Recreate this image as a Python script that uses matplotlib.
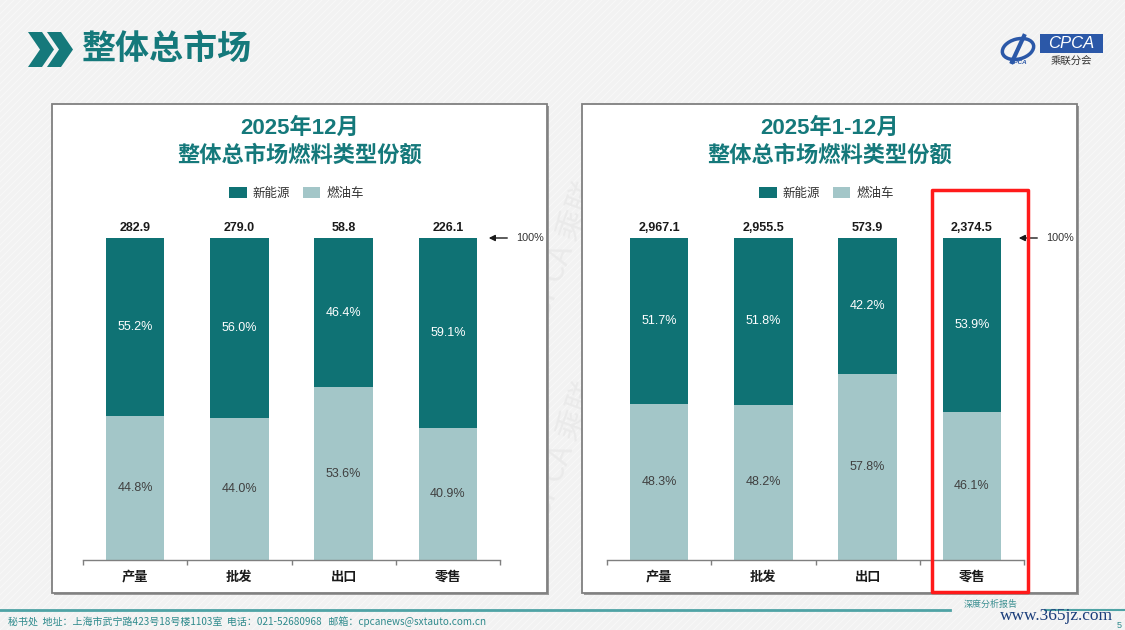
import matplotlib
matplotlib.use("Agg")
import matplotlib.pyplot as plt
from matplotlib.patches import Rectangle, Polygon, Ellipse, Patch

plt.rcParams['font.family'] = ['Liberation Sans', 'Noto Sans CJK SC', 'DejaVu Sans']

# ---------------- data ----------------
categories = ['产量', '批发', '出口', '零售']
left_title = ['2025年12月', '整体总市场燃料类型份额']
left_totals = ['282.9', '279.0', '58.8', '226.1']
left_nev = [55.2, 56.0, 46.4, 59.1]
left_ice = [44.8, 44.0, 53.6, 40.9]

right_title = ['2025年1-12月', '整体总市场燃料类型份额']
right_totals = ['2,967.1', '2,955.5', '573.9', '2,374.5']
right_nev = [51.7, 51.8, 42.2, 53.9]
right_ice = [48.3, 48.2, 57.8, 46.1]

series_names = ['新能源', '燃油车']
page_title = '整体总市场'
footer_text = '秘书处  地址：上海市武宁路423号18号楼1103室  电话：021-52680968   邮箱：cpcanews@sxtauto.com.cn'

DARK = '#0F7274'
LIGHT = '#A3C6C8'
TEAL = '#15797B'

W, H = 1125, 630
fig = plt.figure(figsize=(W / 100, H / 100), dpi=100)
fig.patch.set_facecolor('#F2F2F2')

bg = fig.add_axes([0, 0, 1, 1], zorder=0)
bg.set_xlim(0, W)
bg.set_ylim(H, 0)
bg.axis('off')
bg.set_facecolor('none')

# faint diagonal stripes background
for k in range(-700, 1200, 7):
    bg.plot([k, k + 630], [630, 0], color='white', lw=0.6, alpha=0.55, zorder=0)

# header chevrons
for dx in (0, 19):
    bg.add_patch(Polygon([(28 + dx, 32), (42 + dx, 32), (54 + dx, 49.5), (42 + dx, 67),
                          (28 + dx, 67), (40 + dx, 49.5)], closed=True,
                         facecolor=TEAL, edgecolor='none', zorder=2))
bg.text(82, 49, page_title, fontsize=24.5, fontweight='bold', color=TEAL,
        family=['Noto Sans CJK SC'], va='center', ha='left', zorder=3)

# logo
bg.add_patch(Rectangle((1040, 34), 63, 19, facecolor='#2B58A8', edgecolor='none', zorder=2))
bg.text(1071.5, 43.5, 'CPCA', fontsize=12, color='white', style='italic',
        ha='center', va='center', zorder=3)
bg.text(1071, 61, '乘联分会', fontsize=7.5, color='#333333', family=['Noto Sans CJK SC'],
        ha='center', va='center', zorder=3)
bg.add_patch(Ellipse((1018, 49), 32, 20, angle=-15, facecolor='none', edgecolor='#2B58A8',
                     lw=2.5, zorder=2))
bg.plot([1024, 1012], [36, 62], color='#2B58A8', lw=3, zorder=2)
bg.text(1018, 63, 'CPCA', fontsize=4.5, color='#2B58A8', style='italic', fontweight='bold',
        ha='center', va='center', zorder=3)

# footer
bg.plot([0, 950], [610, 610], color='#4FA3A5', lw=2, zorder=2)
bg.plot([1045, 1125], [610, 610], color='#4FA3A5', lw=1.5, zorder=2)
bg.text(8, 622, footer_text, fontsize=7.2, color='#2E8A8C', family=['Noto Sans CJK SC'],
        va='center', ha='left', zorder=3)
bg.text(964, 604, '深度分析报告', fontsize=6.5, color='#3B8F91', family=['Noto Sans CJK SC'],
        va='center', ha='left', zorder=3)
bg.text(1000, 616, 'www.365jz.com', fontsize=12.5, color='#1A3D7A', family=['Liberation Serif'],
        va='center', ha='left', zorder=4)
bg.text(1119, 626, '5', fontsize=6.5, color='#2E8A8C', va='center', ha='center', zorder=3)

# faint watermark between panels
bg.text(565, 250, 'CPCA 乘联', fontsize=22, color='#EAEAEA', rotation=70,
        family=['Noto Sans CJK SC'], ha='center', va='center', zorder=1)
bg.text(565, 450, 'CPCA 乘联', fontsize=22, color='#EAEAEA', rotation=70,
        family=['Noto Sans CJK SC'], ha='center', va='center', zorder=1)


def panel(x0, axis_off, title, totals, nev, ice):
    pw, ph, y0 = 495, 489, 104
    # shadow + box
    bg.add_patch(Rectangle((x0 + 2, y0 + 2), pw, ph, facecolor='#9A9A9A', edgecolor='none', zorder=2))
    bg.add_patch(Rectangle((x0, y0), pw, ph, facecolor='white', edgecolor='#7F7F7F', lw=1.3, zorder=3))
    cx = x0 + pw / 2
    bg.text(cx, 128, title[0], fontsize=16, fontweight='bold', color=TEAL,
            ha='center', va='center', zorder=4)
    bg.text(cx, 155, title[1], fontsize=16, fontweight='bold', color=TEAL,
            family=['Noto Sans CJK SC'], ha='center', va='center', zorder=4)

    ax_left = x0 + axis_off
    ax = fig.add_axes([ax_left / W, (H - 560) / H, 417 / W, 322 / H], zorder=5)
    ax.set_facecolor('none')
    xs = list(range(len(categories)))
    ice_f = [v / 100 for v in ice]
    nev_f = [v / 100 for v in nev]
    ax.bar(xs, ice_f, width=0.56, color=LIGHT, label=series_names[1])
    ax.bar(xs, nev_f, width=0.56, bottom=ice_f, color=DARK, label=series_names[0])
    for i in xs:
        ax.text(i, ice_f[i] + nev_f[i] / 2, f'{nev[i]:.1f}%', ha='center', va='center',
                fontsize=9, color='white')
        ax.text(i, ice_f[i] / 2, f'{ice[i]:.1f}%', ha='center', va='center',
                fontsize=9, color='#404040')
        ax.annotate(totals[i], (i, ice_f[i] + nev_f[i]), xytext=(0, 3),
                    textcoords='offset points', ha='center', va='bottom',
                    fontsize=9, fontweight='bold', color='#1A1A1A', annotation_clip=False)
    ax.set_xlim(-0.5, len(categories) - 0.5)
    ax.set_ylim(0, 1)
    ax.set_xticks(xs)
    ax.set_xticklabels(categories, fontsize=9.5, fontweight='bold',
                       family=['Noto Sans CJK SC'], color='#1A1A1A')
    ax.set_xticks([i - 0.5 for i in range(len(categories) + 1)], minor=True)
    ax.tick_params(axis='x', which='major', length=0, pad=7)
    ax.tick_params(axis='x', which='minor', length=3.5, direction='out', color='#7F7F7F', width=1)
    ax.set_yticks([])
    for s in ('top', 'right', 'left'):
        ax.spines[s].set_visible(False)
    ax.spines['bottom'].set_color('#7F7F7F')
    ax.spines['bottom'].set_linewidth(1)

    # 100% arrow (placed in pixels relative to panel's right side)
    arrow_tip = (x0 + 433 - ax_left) / 104 - 0.5
    arrow_tail = (x0 + 457 - ax_left) / 104 - 0.5
    txt_x = (x0 + 463 - ax_left) / 104 - 0.5
    ax.annotate('', xy=(arrow_tip, 1.0), xytext=(arrow_tail, 1.0),
                arrowprops=dict(arrowstyle='-|>', color='#1A1A1A', lw=1, mutation_scale=9),
                annotation_clip=False)
    ax.text(txt_x, 1.0, '100%', fontsize=7.8, color='#333333', ha='left', va='center', clip_on=False)

    handles = [Patch(facecolor=DARK, label=series_names[0]),
               Patch(facecolor=LIGHT, label=series_names[1])]
    ax.legend(handles=handles, loc='center', bbox_to_anchor=((cx - 3) / W, 1 - 193 / H),
              bbox_transform=fig.transFigure, ncol=2, frameon=False,
              prop={'family': ['Noto Sans CJK SC'], 'size': 9},
              handlelength=1.4, handleheight=1.0, handletextpad=0.5, columnspacing=1.0,
              labelcolor='#333333')
    return ax


panel(52, 31, left_title, left_totals, left_nev, left_ice)
panel(582, 25, right_title, right_totals, right_nev, right_ice)

# red highlight box on the right panel's retail column
top = fig.add_axes([0, 0, 1, 1], zorder=10)
top.set_xlim(0, W)
top.set_ylim(H, 0)
top.axis('off')
top.set_facecolor('none')
top.add_patch(Rectangle((932, 190), 96, 402, facecolor='none', edgecolor='#FF1A1A',
                        lw=2.5, joinstyle='round'))

fig.savefig('out.png', dpi=100, facecolor=fig.get_facecolor())
